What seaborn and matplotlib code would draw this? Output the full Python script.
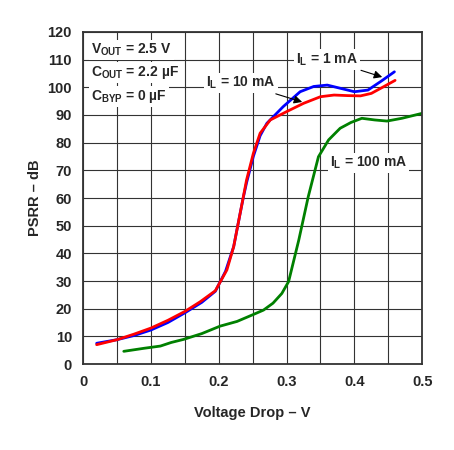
import numpy as np
import pandas as pd
import matplotlib
matplotlib.use('Agg')
import matplotlib.pyplot as plt
import seaborn as sns

# 读图得到的数据
x_1ma = [0.02, 0.05, 0.075, 0.10, 0.125, 0.15, 0.175, 0.195, 0.21, 0.222, 0.2316, 0.2365, 0.241, 0.251,
         0.261, 0.271, 0.285, 0.295, 0.32, 0.34, 0.36, 0.38, 0.40, 0.42, 0.44, 0.459]
y_1ma = [7.5, 8.8, 10.3, 12.3, 15.0, 18.5, 22.3, 26.3, 33.5, 42.4, 54.5, 60.5, 65.5, 75.0,
         82.5, 87.0, 90.5, 93.0, 98.4, 100.3, 100.8, 99.6, 98.4, 99.0, 102.3, 105.6]
x_10ma = [0.02, 0.05, 0.075, 0.10, 0.125, 0.15, 0.1726, 0.195, 0.212, 0.222, 0.2316, 0.241, 0.251,
          0.261, 0.276, 0.30, 0.325, 0.35, 0.37, 0.39, 0.409, 0.425, 0.443, 0.46]
y_10ma = [7.0, 8.8, 10.8, 13.0, 15.8, 19.0, 22.5, 26.5, 34.0, 42.4, 54.5, 66.5, 76.1,
          83.4, 88.2, 91.2, 94.2, 96.6, 97.2, 97.0, 96.9, 97.8, 100.2, 102.5]
x_100ma = [0.06, 0.09, 0.114, 0.13, 0.148, 0.175, 0.202, 0.227, 0.25, 0.266, 0.28, 0.293, 0.303,
           0.318, 0.332, 0.347, 0.362, 0.379, 0.395, 0.411, 0.43, 0.448, 0.47, 0.50]
y_100ma = [4.6, 5.7, 6.5, 7.8, 8.9, 11.0, 13.7, 15.4, 17.8, 19.5, 22.0, 25.5, 29.8,
           44.8, 60.5, 74.9, 81.0, 85.2, 87.3, 88.8, 88.2, 87.8, 88.8, 90.6]

labels = ['1 mA', '10 mA', '100 mA']
colors = ['#0000ff', '#ff0000', '#008000']

df = pd.concat([
    pd.DataFrame({'drop': x_1ma, 'psrr': y_1ma, 'IL': labels[0]}),
    pd.DataFrame({'drop': x_10ma, 'psrr': y_10ma, 'IL': labels[1]}),
    pd.DataFrame({'drop': x_100ma, 'psrr': y_100ma, 'IL': labels[2]}),
])

sns.set_style('white')
plt.rcParams['font.family'] = ['Liberation Sans', 'DejaVu Sans']
plt.rcParams['font.weight'] = 'bold'
plt.rcParams['mathtext.fontset'] = 'custom'
plt.rcParams['mathtext.rm'] = 'Liberation Sans:bold'
plt.rcParams['mathtext.it'] = 'Liberation Sans:bold'
plt.rcParams['mathtext.bf'] = 'Liberation Sans:bold'

fig = plt.figure(figsize=(4.54, 4.5), dpi=100)
ax = fig.add_axes([0.183, 0.191, 0.747, 0.738])

sns.lineplot(data=df, x='drop', y='psrr', hue='IL', palette=dict(zip(labels, colors)),
             sort=False, estimator=None, linewidth=2, legend=False, ax=ax)

ax.set_xlim(0, 0.5)
ax.set_ylim(0, 120)
ax.set_xticks(np.arange(0, 0.51, 0.05))
ax.set_xticklabels(['0', '', '0.1', '', '0.2', '', '0.3', '', '0.4', '', '0.5'])
ax.set_yticks(np.arange(0, 121, 10))
ax.grid(True, color='#333333', linewidth=0.8)
ax.tick_params(length=0, labelsize=10.5, pad=8)
for s in ax.spines.values():
    s.set_color('#333333')
    s.set_linewidth(1.3)
ax.set_xlabel('Voltage Drop – V', fontsize=10.5, fontweight='bold', labelpad=12)
ax.set_ylabel('PSRR – dB', fontsize=10.5, fontweight='bold', labelpad=4)

fs = 10
box = dict(facecolor='white', edgecolor='none', pad=1.5)
ax.text(0.012, 113.5, r'V$_\mathrm{OUT}$ = 2.5 V', fontsize=fs, fontweight='bold', bbox=box, va='center')
ax.text(0.012, 105.2, r'C$_\mathrm{OUT}$ = 2.2 µF', fontsize=fs, fontweight='bold', bbox=box, va='center')
ax.text(0.012, 96.8, r'C$_\mathrm{BYP}$ = 0 µF', fontsize=fs, fontweight='bold', bbox=box, va='center')

arrow = dict(arrowstyle='-|>', color='black', lw=0.8, mutation_scale=12, shrinkA=1, shrinkB=0)
ax.annotate(r'I$_\mathrm{L}$ = 1 mA', xy=(0.441, 103.7), xytext=(0.36, 110),
            fontsize=fs, fontweight='bold', ha='center', va='center', bbox=box, arrowprops=arrow)
ax.annotate(r'I$_\mathrm{L}$ = 10 mA', xy=(0.323, 94.7), xytext=(0.233, 101.5),
            fontsize=fs, fontweight='bold', ha='center', va='center', bbox=box, arrowprops=arrow)
ax.text(0.364, 72.6, r'I$_\mathrm{L}$ = 100 mA', fontsize=fs, fontweight='bold',
        ha='left', va='center', bbox=box)

plt.savefig('out.png', dpi=100)
